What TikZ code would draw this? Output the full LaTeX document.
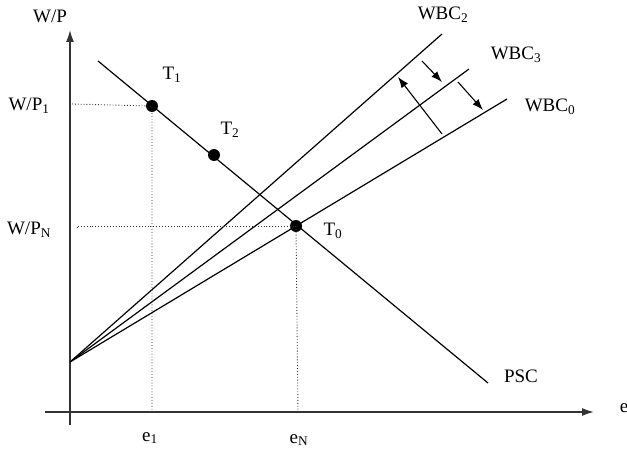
\documentclass[tikz,border=0pt]{standalone}
\usepackage{fontspec}
\setmainfont{Liberation Serif}
\usepackage{tikz}
\usetikzlibrary{arrows.meta}

\tikzset{
    axis/.style={line width=1.6pt,black!80,-{Latex[length=12pt,width=8pt]}},
    curve/.style={line width=1.2pt},
    guide/.style={line width=0.9pt,dotted,black!80},
    shiftarrow/.style={line width=1.1pt,-{Latex[length=11pt,width=8pt]}},
    pt/.style={circle,fill=black,inner sep=0pt,minimum size=12pt},
    lbl/.style={inner sep=1pt,font=\fontsize{19}{22}\selectfont}
}

\begin{document}
\begin{tikzpicture}[x=1pt,y=-1pt]
        \useasboundingbox (0,0) rectangle (627,452);
        % axes
        \coordinate (xs) at (45,412);
        \coordinate (xe) at (594,412);
        \coordinate (ys) at (70,425);
        \coordinate (ye) at (70,30);
        \draw[axis] (xs) -- (xe);
        \draw[axis] (ys) -- (ye);
        \node[lbl] (ylab) at (50,16) {W/P};
        \node[lbl] (xlab) at (624,408) {e};

        % points on the PSC
        \node[pt] (T1) at (152,106) {};
        \node[pt] (T2) at (214,155) {};
        \node[pt] (T0) at (296,226) {};

        % PSC
        \coordinate (psca) at (98,61);
        \coordinate (pscb) at (488,383);
        \draw[curve] (psca) -- (pscb);
        \node[lbl] (psc) at (521,376) {PSC};

        % wage bargaining curves
        \coordinate (o) at (70,362);
        \coordinate (w2) at (442,34);
        \coordinate (w3) at (469,69);
        \coordinate (w0) at (507,99);
        \draw[curve] (o) -- (w2);
        \draw[curve] (o) -- (w3);
        \draw[curve] (o) -- (w0);
        \node[lbl] (wbc2) at (443,15) {WBC\textsubscript{2}};
        \node[lbl] (wbc3) at (516,55) {WBC\textsubscript{3}};
        \node[lbl] (wbc0) at (550,107) {WBC\textsubscript{0}};

        % shifts
        \coordinate (a1) at (422,61);
        \coordinate (b1) at (442,82);
        \coordinate (a2) at (458,82);
        \coordinate (b2) at (483,110);
        \coordinate (a3) at (442,134);
        \coordinate (b3) at (398,77);
        \draw[shiftarrow] (a1) -- (b1);
        \draw[shiftarrow] (a2) -- (b2);
        \draw[shiftarrow] (a3) -- (b3);

        % guides
        \coordinate (g1) at (72,104);
        \coordinate (g2) at (152,412);
        \coordinate (gN) at (77,228);
        \coordinate (gE) at (298,412);
        \draw[guide] (g1) -- (T1.center) -- (g2);
        \draw[guide] (gN) -- (T0.center -| gN) -- (T0.center);
        \draw[guide] (T0.center) -- (gE);

        \node[lbl] (t1) at (172,75) {T\textsubscript{1}};
        \node[lbl] (t2) at (230,130) {T\textsubscript{2}};
        \node[lbl] (t0) at (333,231) {T\textsubscript{0}};
        \node[lbl] (wp1) at (29,106) {W/P\textsubscript{1}};
        \node[lbl] (wpn) at (29,230) {W/P\textsubscript{N}};
        \node[lbl] (e1) at (150,438) {e\textsubscript{1}};
        \node[lbl] (eN) at (299,440) {e\textsubscript{N}};
    \end{tikzpicture}
\end{document}
